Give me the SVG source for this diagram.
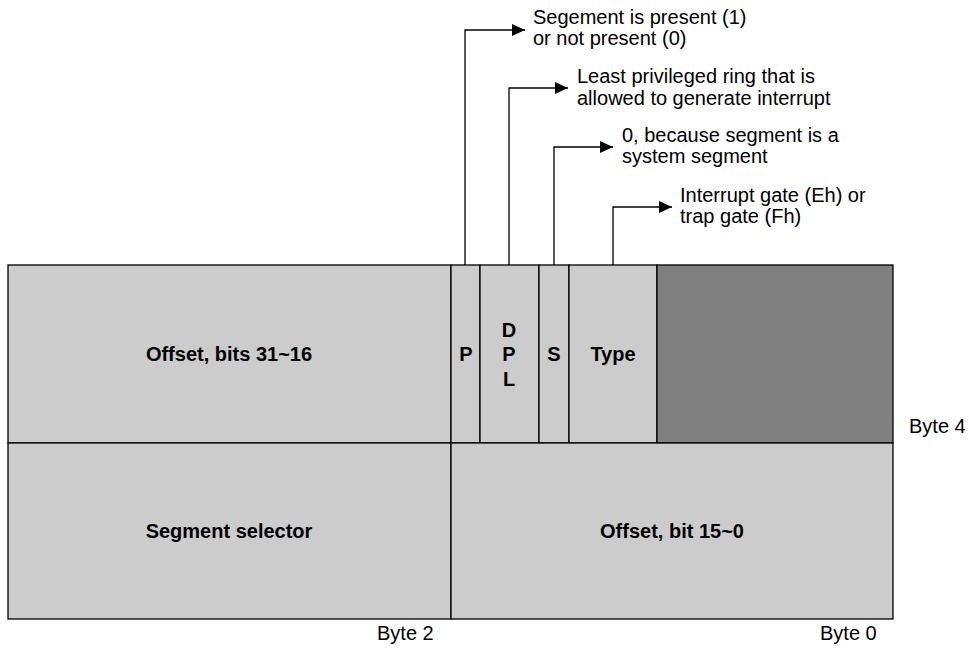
<svg xmlns="http://www.w3.org/2000/svg" width="969" height="648" viewBox="0 0 969 648">
  <style>
    .cell { fill: #cccccc; stroke: #000; stroke-width: 1.3; }
    .dark { fill: #808080; stroke: #000; stroke-width: 1.3; }
    .lbl { font-family: "Liberation Sans", Arial, sans-serif; font-size: 20px; font-weight: bold; fill: #000; text-anchor: middle; }
    .note { font-family: "Liberation Sans", Arial, sans-serif; font-size: 20px; fill: #000; }
    .wire { fill: none; stroke: #000; stroke-width: 1.3; }
  </style>
  <defs>
    <marker id="arrow" markerWidth="14" markerHeight="12" refX="13" refY="6" orient="auto" markerUnits="userSpaceOnUse">
      <path d="M0,0 L13,6 L0,12 Z" fill="#000"/>
    </marker>
  </defs>
  <rect x="0" y="0" width="969" height="648" fill="#fff"/>

  <!-- upper word: bytes 7..4 -->
  <g id="offset-high">
    <rect class="cell" x="8" y="265" width="443" height="178"/>
    <text class="lbl" x="229" y="361">Offset, bits 31~16</text>
  </g>
  <g id="field-p">
    <rect class="cell" x="451" y="265" width="29" height="178"/>
    <text class="lbl" x="466" y="361">P</text>
  </g>
  <g id="field-dpl">
    <rect class="cell" x="480" y="265" width="59" height="178"/>
    <text class="lbl" x="509" y="337">D</text>
    <text class="lbl" x="509" y="361">P</text>
    <text class="lbl" x="509" y="386">L</text>
  </g>
  <g id="field-s">
    <rect class="cell" x="539" y="265" width="30" height="178"/>
    <text class="lbl" x="554" y="361">S</text>
  </g>
  <g id="field-type">
    <rect class="cell" x="569" y="265" width="88" height="178"/>
    <text class="lbl" x="613" y="361">Type</text>
  </g>
  <g id="reserved">
    <rect class="dark" x="657" y="265" width="236" height="178"/>
  </g>

  <!-- lower word: bytes 3..0 -->
  <g id="segment-selector">
    <rect class="cell" x="8" y="443" width="443" height="176"/>
    <text class="lbl" x="229" y="538">Segment selector</text>
  </g>
  <g id="offset-low">
    <rect class="cell" x="451" y="443" width="442" height="176"/>
    <text class="lbl" x="672" y="538">Offset, bit 15~0</text>
  </g>

  <!-- byte offsets -->
  <g id="byte-labels">
    <text class="note" x="909" y="433">Byte 4</text>
    <text class="note" x="377" y="640">Byte 2</text>
    <text class="note" x="820" y="640">Byte 0</text>
  </g>

  <!-- field callouts -->
  <g id="connectors">
    <path class="wire" d="M465,265 V30 H525" marker-end="url(#arrow)"/>
    <path class="wire" d="M509,265 V88 H568" marker-end="url(#arrow)"/>
    <path class="wire" d="M554,265 V147 H613" marker-end="url(#arrow)"/>
    <path class="wire" d="M613,265 V207 H672" marker-end="url(#arrow)"/>
  </g>

  <g id="note-p">
    <text class="note" x="533" y="24">Segement is present (1)</text>
    <text class="note" x="533" y="45">or not present (0)</text>
  </g>
  <g id="note-dpl">
    <text class="note" x="577" y="83">Least privileged ring that is</text>
    <text class="note" x="577" y="105">allowed to generate interrupt</text>
  </g>
  <g id="note-s">
    <text class="note" x="622" y="142">0, because segment is a</text>
    <text class="note" x="622" y="163">system segment</text>
  </g>
  <g id="note-type">
    <text class="note" x="680" y="202">Interrupt gate (Eh) or</text>
    <text class="note" x="680" y="223">trap gate (Fh)</text>
  </g>
</svg>
